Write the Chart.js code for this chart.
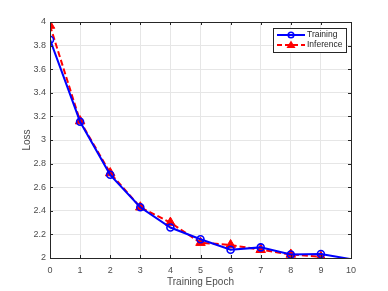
<!DOCTYPE html>
<html>
<head>
<meta charset="utf-8">
<script src="https://cdn.jsdelivr.net/npm/chart.js@4"></script>
<style>
  html, body { margin: 0; padding: 0; background: #fff; }
  #wrap { width: 388px; height: 291px; }
</style>
</head>
<body>
<div id="wrap"><canvas id="lossChart" width="388" height="291"></canvas></div>
<script>
const epochs = [0, 1, 2, 3, 4, 5, 6, 7, 8, 9, 10];
const trainingLoss = [3.85, 3.155, 2.705, 2.43, 2.258, 2.159, 2.07, 2.09, 2.03, 2.034, 1.99];
const inferenceLoss = [3.97, 3.16, 2.72, 2.43, 2.30, 2.13, 2.11, 2.07, 2.03, 2.01];
const seriesNames = ['Training', 'Inference'];

const FONT = '"Liberation Sans", Arial, sans-serif';
const TXT = '#4d4d4d';

// MATLAB style box: inward ticks on all four sides + legend box
const boxPlugin = {
    id: 'boxPlugin',
    afterDraw(chart) {
        const ctx = chart.ctx;
        const a = chart.chartArea;
        const xs = chart.scales.x, ys = chart.scales.y;
        ctx.save();
        ctx.strokeStyle = '#262626';
        ctx.lineWidth = 1;
        ctx.strokeRect(Math.round(a.left) + 0.5, Math.round(a.top) + 0.5,
            Math.round(a.right - a.left), Math.round(a.bottom - a.top));
        const t = 3;
        ctx.beginPath();
        xs.ticks.forEach(tk => {
            const px = Math.round(xs.getPixelForValue(tk.value)) + 0.5;
            ctx.moveTo(px, a.bottom); ctx.lineTo(px, a.bottom - t);
            ctx.moveTo(px, a.top); ctx.lineTo(px, a.top + t);
        });
        ys.ticks.forEach(tk => {
            const py = Math.round(ys.getPixelForValue(tk.value)) + 0.5;
            ctx.moveTo(a.left, py); ctx.lineTo(a.left + t, py);
            ctx.moveTo(a.right, py); ctx.lineTo(a.right - t, py);
        });
        ctx.stroke();

        // legend
        const lx = 273, ly = 28, lw = 73, lh = 24;
        ctx.fillStyle = '#fff';
        ctx.fillRect(lx, ly, lw, lh);
        ctx.strokeStyle = '#262626';
        ctx.strokeRect(lx + 0.5, ly + 0.5, lw, lh);
        ctx.font = '8.5px ' + FONT;
        ctx.textBaseline = 'middle';
        ctx.fillStyle = '#262626';
        // Training row
        let y = ly + 7;
        ctx.strokeStyle = '#0000ff';
        ctx.lineWidth = 2;
        ctx.beginPath(); ctx.moveTo(lx + 4, y); ctx.lineTo(lx + 32, y); ctx.stroke();
        ctx.lineWidth = 1.5;
        ctx.beginPath(); ctx.arc(lx + 18, y, 2.8, 0, Math.PI * 2); ctx.stroke();
        ctx.fillText(seriesNames[0], lx + 34, y);
        // Inference row
        y = ly + 17;
        ctx.strokeStyle = '#ff0000';
        ctx.lineWidth = 2;
        ctx.setLineDash([5, 3]);
        ctx.beginPath(); ctx.moveTo(lx + 4, y); ctx.lineTo(lx + 32, y); ctx.stroke();
        ctx.setLineDash([]);
        ctx.fillStyle = '#ff0000';
        ctx.beginPath();
        ctx.moveTo(lx + 18, y - 4.5); ctx.lineTo(lx + 22.5, y + 3); ctx.lineTo(lx + 13.5, y + 3);
        ctx.closePath(); ctx.fill();
        ctx.fillStyle = '#262626';
        ctx.fillText(seriesNames[1], lx + 34, y);
        ctx.restore();
    }
};

new Chart(document.getElementById('lossChart'), {
    type: 'line',
    data: {
        datasets: [{
            label: seriesNames[0],
            data: epochs.map((e, i) => ({ x: e, y: trainingLoss[i] })),
            borderColor: '#0000ff',
            backgroundColor: 'rgba(0,0,0,0)',
            borderWidth: 2,
            pointStyle: 'circle',
            pointRadius: epochs.map(e => e < 10 ? 3.5 : 0),
            pointBorderWidth: 1.6,
            pointBorderColor: '#0000ff',
            pointBackgroundColor: 'rgba(0,0,0,0)',
            tension: 0
        }, {
            label: seriesNames[1],
            data: inferenceLoss.map((v, i) => ({ x: epochs[i], y: v })),
            borderColor: '#ff0000',
            backgroundColor: '#ff0000',
            borderWidth: 2,
            borderDash: [6, 3],
            pointStyle: 'triangle',
            pointRadius: 5.5,
            pointBorderWidth: 1,
            pointBorderColor: '#ff0000',
            pointBackgroundColor: '#ff0000',
            tension: 0
        }]
    },
    options: {
        responsive: false,
        animation: false,
        events: [],
        layout: { padding: { left: 17, top: 22, right: 37, bottom: 0 } },
        plugins: { legend: { display: false }, tooltip: { enabled: false } },
        scales: {
            x: {
                type: 'linear',
                min: 0, max: 10,
                afterFit: s => { s.height = 33; },
                ticks: { stepSize: 1, color: TXT, font: { family: FONT, size: 9 }, padding: 7, maxRotation: 0 },
                grid: { color: '#e6e6e6', tickLength: 0, drawTicks: false },
                border: { display: false },
                title: { display: true, text: 'Training Epoch', color: TXT, font: { family: FONT, size: 10 }, padding: { top: 1, bottom: 3 } }
            },
            y: {
                min: 2, max: 4,
                afterFit: s => { s.width = 33; },
                ticks: {
                    stepSize: 0.2, color: TXT, font: { family: FONT, size: 9 }, padding: 4,
                    callback: v => String(Math.round(v * 10) / 10)
                },
                grid: { color: '#e6e6e6', tickLength: 0, drawTicks: false },
                border: { display: false },
                title: { display: true, text: 'Loss', color: TXT, font: { family: FONT, size: 10 }, padding: { bottom: 0 } }
            }
        }
    },
    plugins: [boxPlugin]
});
</script>
</body>
</html>
